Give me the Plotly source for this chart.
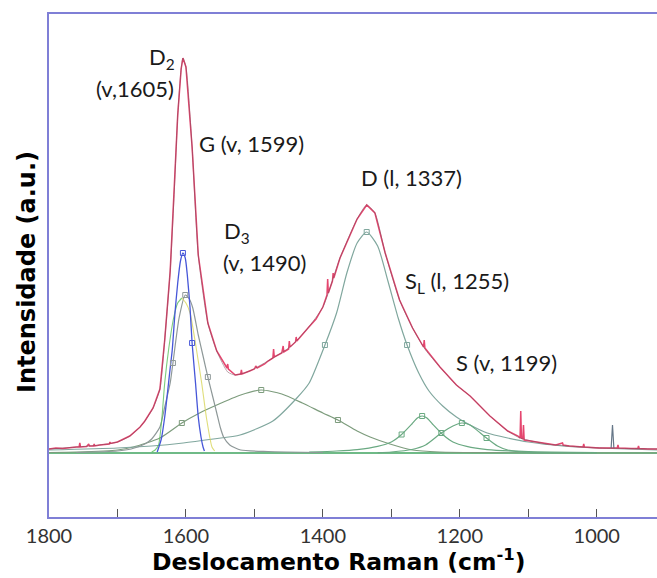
import plotly.graph_objects as go

# ---------------- data ----------------
# measured spectrum (red) : Raman shift (cm-1) / intensity (a.u.)
red_w = [1800, 1790, 1780, 1770, 1760, 1756, 1755, 1754, 1745, 1742, 1741, 1735, 1734, 1733,
         1726, 1712, 1711, 1710, 1700, 1682, 1667, 1660, 1648, 1638, 1631, 1623, 1617, 1612,
         1607, 1604.4, 1600, 1591, 1582, 1568, 1555, 1545, 1540, 1539, 1538, 1528, 1520, 1519,
         1518, 1507, 1500, 1498, 1496, 1485, 1480, 1473, 1472, 1471, 1460, 1458, 1457, 1450,
         1449, 1448, 1440, 1439, 1438, 1423, 1410, 1400, 1394, 1393, 1392, 1386, 1385, 1384,
         1375, 1350, 1336, 1324, 1309, 1288, 1269, 1253, 1252, 1251, 1229, 1205, 1185, 1156,
         1130, 1115, 1112, 1111, 1110, 1108, 1107, 1106, 1090, 1073, 1060, 1050, 1049, 1040,
         1020, 1019, 1018, 996, 990, 970, 969, 968, 950, 940, 939, 938, 925, 912]
red_h = [4, 5, 4.5, 5.5, 6, 6, 10, 6, 6.5, 9, 7, 7, 9, 7,
         8, 9, 11, 9.5, 11, 17, 26, 32, 45, 64, 113, 182, 262, 338,
         384, 395, 386, 306, 198, 130, 102, 90, 85, 89, 84, 78, 79, 83,
         79, 82, 84, 87, 85, 89, 92, 95, 104, 96, 100, 107, 101, 104,
         112, 106, 111, 116, 112, 124, 134, 146, 158, 174, 160, 172, 180, 175,
         195, 234, 248, 240, 200, 153, 125, 106, 113, 105, 86, 68, 57, 37,
         22, 17, 15, 42, 15, 14, 28, 13, 11, 9, 8, 10, 8, 7,
         6, 9, 6, 5, 5, 5, 8, 5, 4.5, 4.5, 7, 4.5, 4, 4]

# cumulative fit
fit_w = [1800, 1760, 1726, 1700, 1682, 1667, 1660, 1648, 1638, 1631, 1623, 1617, 1612, 1607,
         1604.4, 1600, 1591, 1582, 1568, 1555, 1539, 1528, 1507, 1473, 1448, 1423, 1400, 1375,
         1350, 1336, 1324, 1309, 1288, 1269, 1250, 1229, 1205, 1185, 1156, 1130, 1112, 1073,
         1040, 996, 950, 912]
fit_h = [4, 6, 8, 11, 17, 26, 32, 45, 64, 113, 182, 262, 338, 384,
         395, 386, 306, 198, 130, 102, 81, 78, 82, 95, 106, 124, 146, 195,
         234, 248, 240, 200, 153, 125, 103, 86, 68, 57, 37, 22, 15, 9,
         7, 5, 4.5, 4]

# D2 (v, 1605)
d2_w = [1642, 1640, 1636, 1631, 1627, 1623, 1620, 1616, 1612, 1608, 1604.4, 1601, 1598,
        1594, 1591, 1586, 1582, 1578, 1575, 1573]
d2_h = [1, 5, 14, 36, 60, 85, 103, 140, 170, 192, 200, 195, 178,
        145, 110, 70, 36, 16, 6, 2]
d2_mark = [1604.4, 1591]

# G (v, 1599)
g_w = [1760, 1700, 1680, 1660, 1650, 1638, 1631, 1623, 1619, 1610, 1601, 1595, 1590, 1582,
       1575, 1568, 1560, 1555, 1550, 1545, 1536, 1520, 1480, 1400]
g_h = [0.5, 2, 4, 9, 14, 26, 46, 70, 90, 135, 158, 154, 145, 118,
       97, 76, 54, 40, 26, 16, 8, 3, 1.5, 0.5]
g_mark = [1601, 1619, 1568]

# light green / yellow outline around G
gl_w = [1650, 1645, 1640, 1635, 1631, 1625, 1618, 1612, 1606]
gl_h = [1, 3, 8, 36, 70, 105, 135, 150, 155]
gr_w = [1606, 1600, 1594, 1585, 1577, 1570, 1562, 1558]
gr_h = [155, 150, 140, 105, 70, 35, 6, 2]

# D3 (v, 1490)
d3_w = [1800, 1760, 1700, 1677, 1638, 1606, 1580, 1555, 1520, 1490, 1460, 1430, 1400, 1378,
        1350, 1331, 1302, 1269, 1230, 1150, 912]
d3_h = [0.5, 1, 3, 6, 15, 30, 40, 48, 58, 63, 59, 50, 40, 33,
        22, 16, 9, 3, 1, 0.3, 0]
d3_mark = [1606, 1490, 1378]

# D (l, 1337)
d_w = [1800, 1700, 1650, 1604, 1560, 1521, 1473, 1438, 1420, 1397, 1380, 1365, 1350, 1336,
       1320, 1305, 1290, 1277, 1260, 1245, 1225, 1205, 1185, 1160, 1130, 1100, 1050, 1000, 912]
d_h = [3, 5, 7, 10, 14, 18, 32, 55, 70, 108, 140, 180, 210, 221,
       207, 172, 135, 108, 80, 62, 47, 36, 28, 20, 15, 11, 7, 5, 3]
d_mark = [1397, 1336, 1277]

# SL (l, 1255)
sl_w = [1420, 1380, 1350, 1320, 1300, 1285, 1270, 1262, 1255, 1248, 1240, 1225, 1210, 1190,
        1160, 1100, 1000]
sl_h = [1, 2, 3.4, 6.6, 11, 18.5, 29, 35, 37, 35, 29, 18.5, 11, 6.6,
        3.4, 1.4, 0.5]
sl_mark = [1285, 1255]

# S (v, 1199)
s_w = [1320, 1300, 1270, 1250, 1227, 1210, 1197, 1185, 1170, 1161, 1145, 1130, 1100, 1050, 1000]
s_h = [0.3, 1, 3.5, 8, 20, 27, 30, 28, 20, 15, 7, 3, 0.7, 0.1, 0]
s_mark = [1227, 1197, 1161]

# dark spike near 977
spk_w = [979, 977, 975]
spk_h = [5, 28, 5]

# baseline
base_w = [1800, 912]
base_h = [0, 0]

x_ticks = [1800, 1700, 1600, 1500, 1400, 1300, 1200, 1100, 1000]
x_ticklabels = ["1800", "", "1600", "", "1400", "", "1200", "", "1000"]

labels = ["D<sub>2</sub>", "(v,1605)", "G (v, 1599)", "D<sub>3</sub>", "(v, 1490)",
          "D (l, 1337)", "S<sub>L</sub> (l, 1255)", "S (v, 1199)"]

# ---------------- figure ----------------
W, H = 657, 578
L, R, T, B = 49, 0, 14, 61
PW, PH = W - L - R, H - T - B


def px(x):
    return (x - L) / PW


def py(y):
    return (H - B - y) / PH


fig = go.Figure()


def curve(w, h, color, width=1.2, shape="spline", opacity=1.0):
    fig.add_trace(go.Scatter(x=w, y=h, mode="lines", opacity=opacity,
                             line=dict(color=color, width=width, shape=shape, smoothing=0.6),
                             hoverinfo="skip", showlegend=False))


def marks(w, h, sel, color):
    lut = dict(zip(w, h))
    fig.add_trace(go.Scatter(x=sel, y=[lut[v] for v in sel], mode="markers",
                             marker=dict(symbol="square-open", size=5, color=color,
                                         line=dict(width=1, color=color)),
                             hoverinfo="skip", showlegend=False))


curve(base_w, base_h, "#3fa35f", 1.6, "linear")
curve(d3_w, d3_h, "#7d9c7d")
curve(d_w, d_h, "#80a79e")
curve(sl_w, sl_h, "#6aa982")
curve(s_w, s_h, "#6aa982")
curve(g_w, g_h, "#8e9898")
curve(gl_w, gl_h, "#5cc05c", 1.1, opacity=0.8)
curve(gr_w, gr_h, "#d9d65a", 1.1, opacity=0.8)
curve(d2_w, d2_h, "#4656d8", 1.3)
curve(red_w, red_h, "#e5466f", 1.5, "linear")
curve(spk_w, spk_h, "#667788", 1.2, "linear")
curve(fit_w, fit_h, "#7a4a5a", 1.0, opacity=0.5)

marks(d3_w, d3_h, d3_mark, "#7d9c7d")
marks(d_w, d_h, d_mark, "#80a79e")
marks(sl_w, sl_h, sl_mark, "#6aa982")
marks(s_w, s_h, s_mark, "#6aa982")
marks(g_w, g_h, g_mark, "#8e9898")
marks(d2_w, d2_h, d2_mark, "#4656d8")

lab_font = dict(family="Lato", size=22, color="#1a1a1a")
# (x px, y px, xanchor)
lab_pos = [(177, 58, "right"), (176, 88, "right"), (197, 144, "left"), (222, 232, "left"),
           (221, 262, "left"), (359, 177, "left"), (403, 282, "left"), (454, 362, "left")]
ann = []
for t, (x, y, xa) in zip(labels, lab_pos):
    ann.append(dict(text=t, x=px(x), y=py(y), xref="paper", yref="paper", xanchor=xa,
                    yanchor="middle", showarrow=False, font=lab_font))

ann.append(dict(text="<b>Deslocamento Raman (cm<sup>-1</sup>)</b>", x=px(339), y=py(560),
                xref="paper", yref="paper", xanchor="center", yanchor="middle",
                showarrow=False, font=dict(family="DejaVu Sans", size=23.5, color="#000000")))
ann.append(dict(text="<b>Intensidade (a.u.)</b>", x=px(27), y=py(272), textangle=-90,
                xref="paper", yref="paper", xanchor="center", yanchor="middle",
                showarrow=False, font=dict(family="DejaVu Sans", size=24, color="#000000")))

axis_col = "#7f7fd6"
fig.update_layout(
    width=W, height=H, margin=dict(l=L, r=R, t=T, b=B, pad=0),
    paper_bgcolor="white", plot_bgcolor="white",
    annotations=ann,
    xaxis=dict(range=[1800, 912], showgrid=False, zeroline=False, showline=True,
               linecolor=axis_col, linewidth=1.5, mirror=True,
               ticks="inside", ticklen=8, tickwidth=1, tickcolor="#555555",
               tickvals=x_ticks, ticktext=x_ticklabels,
               tickfont=dict(family="Lato", size=20, color="#333333")),
    yaxis=dict(range=[-64, 439], showgrid=False, zeroline=False, showline=True,
               linecolor=axis_col, linewidth=1.5, showticklabels=False, ticks=""),
)

fig.write_html("out.html")
